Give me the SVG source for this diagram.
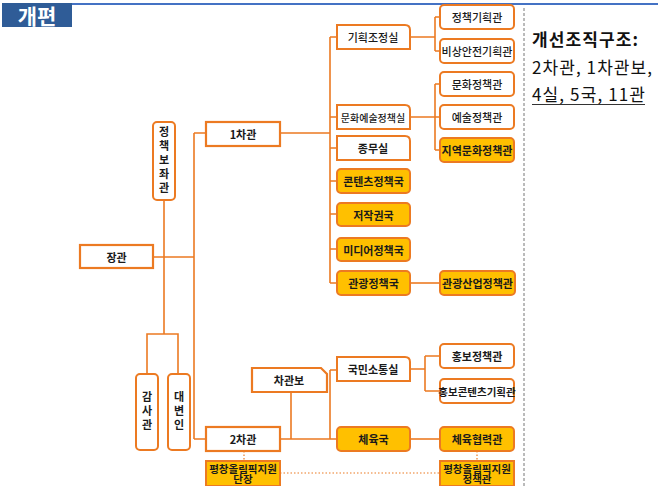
<svg xmlns="http://www.w3.org/2000/svg" width="658" height="486" viewBox="0 0 658 486">
<style>
.t{font-family:"Noto Sans CJK KR","Noto Sans",sans-serif;font-size:11px;font-weight:bold;fill:#1a1a1a;text-anchor:middle;dominant-baseline:central}
.n{font-weight:500}
.v{writing-mode:vertical-rl;letter-spacing:3px;dominant-baseline:auto}
.s{font-size:10.5px}
.sq{fill:#fff;stroke:#EC7A22;stroke-width:2.2}
.w{fill:#fff;stroke:#EC7A22;stroke-width:2}
.y{fill:#FFC000;stroke:#EC7A22;stroke-width:2}
.c{fill:none;stroke:#EC7A22;stroke-width:1.6}
.d{fill:none;stroke:#EC7A22;stroke-width:1.2;stroke-dasharray:1.5 2}
</style>
<rect width="658" height="486" fill="#fff"/>
<g id="header">
<rect x="2" y="3" width="70" height="24" fill="#2F5C97"/>
<line x1="72" y1="4" x2="658" y2="4" stroke="#4472C4" stroke-width="2"/>
<text x="37" y="15" class="t" style="fill:#fff;font-size:21px">개편</text>
</g>
<line x1="524" y1="8" x2="524" y2="486" stroke="#777" stroke-width="1" stroke-dasharray="3 2"/>
<g id="summary" style="font-family:'Noto Sans CJK KR','Noto Sans',sans-serif;fill:#111">
<text x="532" y="46" style="font-size:17px;font-weight:bold" textLength="106" lengthAdjust="spacing">개선조직구조:</text>
<text x="532" y="74" style="font-size:17px" textLength="120" lengthAdjust="spacing">2차관, 1차관보,</text>
<text x="532" y="101" style="font-size:17px" textLength="113" lengthAdjust="spacing">4실, 5국, 11관</text>
<line x1="532" y1="104.5" x2="645" y2="104.5" stroke="#333" stroke-width="1"/>
</g>
<g id="connectors">
<path class="c" d="M154 257H194M194 133V439M194 133H205M194 439H206"/>
<path class="c" d="M164 200V334M147 374V334H178V374"/>
<path class="c" d="M281 133H330M330 37V283M330 37H337M330 117H337M330 148H337M330 181H337M330 214H337M330 249H337M330 283H337"/>
<path class="c" d="M411 37H435M435 17V51M435 17H440M435 51H440"/>
<path class="c" d="M411 117H435M435 84V150M435 84H440M435 117H440M435 150H440"/>
<path class="c" d="M411 283H440"/>
<path class="c" d="M281 439H330M291 392V439M330 370V439M330 370H337M330 439H337"/>
<path class="c" d="M411 369H425M425 356V391M425 356H440M425 391H440"/>
<path class="c" d="M411 439H440"/>
<path class="d" d="M244 451V461M477 451V461M280 473H440"/>
</g>
<g id="n-jangkwan"><rect class="sq" x="80" y="245" width="73" height="23"/><text class="t" x="116.5" y="257">장관</text></g>
<g id="n-policyaide"><rect class="w" x="153" y="122" width="22" height="78" rx="4"/>
<text class="t v" x="164" y="161">정책보좌관</text></g>
<g id="n-audit"><rect class="w" x="136" y="374" width="22" height="76" rx="4"/>
<text class="t v" x="147" y="412">감사관</text></g>
<g id="n-spokes"><rect class="w" x="168" y="374" width="22" height="76" rx="4"/>
<text class="t v" x="179" y="412">대변인</text></g>
<g id="n-vice1"><rect class="sq" x="206" y="122" width="74" height="24"/><text class="t" x="243" y="134">1차관</text></g>
<g id="n-vice2"><rect class="sq" x="206" y="427" width="74" height="24"/><text class="t" x="243" y="439">2차관</text></g>
<g id="n-pc-team"><rect class="y" x="206" y="461" width="74" height="25"/><text class="t s"><tspan x="243" y="467.5">평창올림픽지원</tspan><tspan x="243" y="478">단장</tspan></text></g>
<g id="n-asst"><path class="sq" d="M252 368H321L327 374V392H252Z"/><text class="t" x="289" y="380">차관보</text></g>
<g id="n-gihoek"><path class="w" d="M337 25H405Q410 25 410 30V49H337Z"/><text class="t n" x="373" y="37">기획조정실</text></g>
<g id="n-munye"><path class="w" d="M337 105H405Q410 105 410 110V129H337Z"/><text class="t n" x="373" y="117" style="font-size:10px">문화예술정책실</text></g>
<g id="n-jongmu"><path class="w" d="M337 136H405Q410 136 410 141V160H337Z"/><text class="t" x="373" y="148">종무실</text></g>
<g id="n-content"><rect class="y" x="337" y="169" width="73" height="24" rx="4"/><text class="t" x="373.5" y="181">콘텐츠정책국</text></g>
<g id="n-copy"><rect class="y" x="337" y="203" width="73" height="23" rx="4"/><text class="t" x="373.5" y="214.5">저작권국</text></g>
<g id="n-media"><rect class="y" x="337" y="238" width="73" height="23" rx="4"/><text class="t" x="373.5" y="249.5">미디어정책국</text></g>
<g id="n-tour"><rect class="y" x="337" y="271" width="73" height="24" rx="4"/><text class="t" x="373.5" y="283">관광정책국</text></g>
<g id="n-gukmin"><path class="w" d="M337 357H405Q410 357 410 362V381H337Z"/><text class="t" x="373" y="369">국민소통실</text></g>
<g id="n-sports"><rect class="y" x="337" y="427" width="73" height="24" rx="4"/><text class="t" x="373.5" y="439">체육국</text></g>
<g id="n-jcgh"><rect class="w" x="440" y="5" width="74" height="24" rx="4"/><text class="t n" x="477" y="17">정책기획관</text></g>
<g id="n-bsaj"><rect class="w" x="440" y="39" width="74" height="24" rx="4"/><text class="t n" x="477" y="51">비상안전기획관</text></g>
<g id="n-munhwa"><rect class="w" x="440" y="72" width="74" height="24" rx="4"/><text class="t n" x="477" y="84">문화정책관</text></g>
<g id="n-yesul"><rect class="w" x="440" y="105" width="74" height="24" rx="4"/><text class="t n" x="477" y="117">예술정책관</text></g>
<g id="n-jiyeok"><rect class="y" x="440" y="138" width="74" height="24" rx="4"/><text class="t" x="477" y="150">지역문화정책관</text></g>
<g id="n-tourind"><rect class="y" x="440" y="271" width="75" height="24" rx="4"/><text class="t" x="477.5" y="283">관광산업정책관</text></g>
<g id="n-hongbo"><rect class="w" x="440" y="344" width="74" height="24" rx="4"/><text class="t" x="477" y="356">홍보정책관</text></g>
<g id="n-hbcontent"><rect class="w" x="440" y="379" width="74" height="24" rx="4"/><text class="t" x="477" y="391" style="font-size:10.5px">홍보콘텐츠기획관</text></g>
<g id="n-sportcoop"><rect class="y" x="440" y="427" width="74" height="24" rx="4"/><text class="t" x="477" y="439">체육협력관</text></g>
<g id="n-pc-policy"><rect class="y" x="440" y="461" width="74" height="25"/><text class="t s"><tspan x="477" y="467.5">평창올림픽지원</tspan><tspan x="477" y="478">정책관</tspan></text></g>
</svg>
